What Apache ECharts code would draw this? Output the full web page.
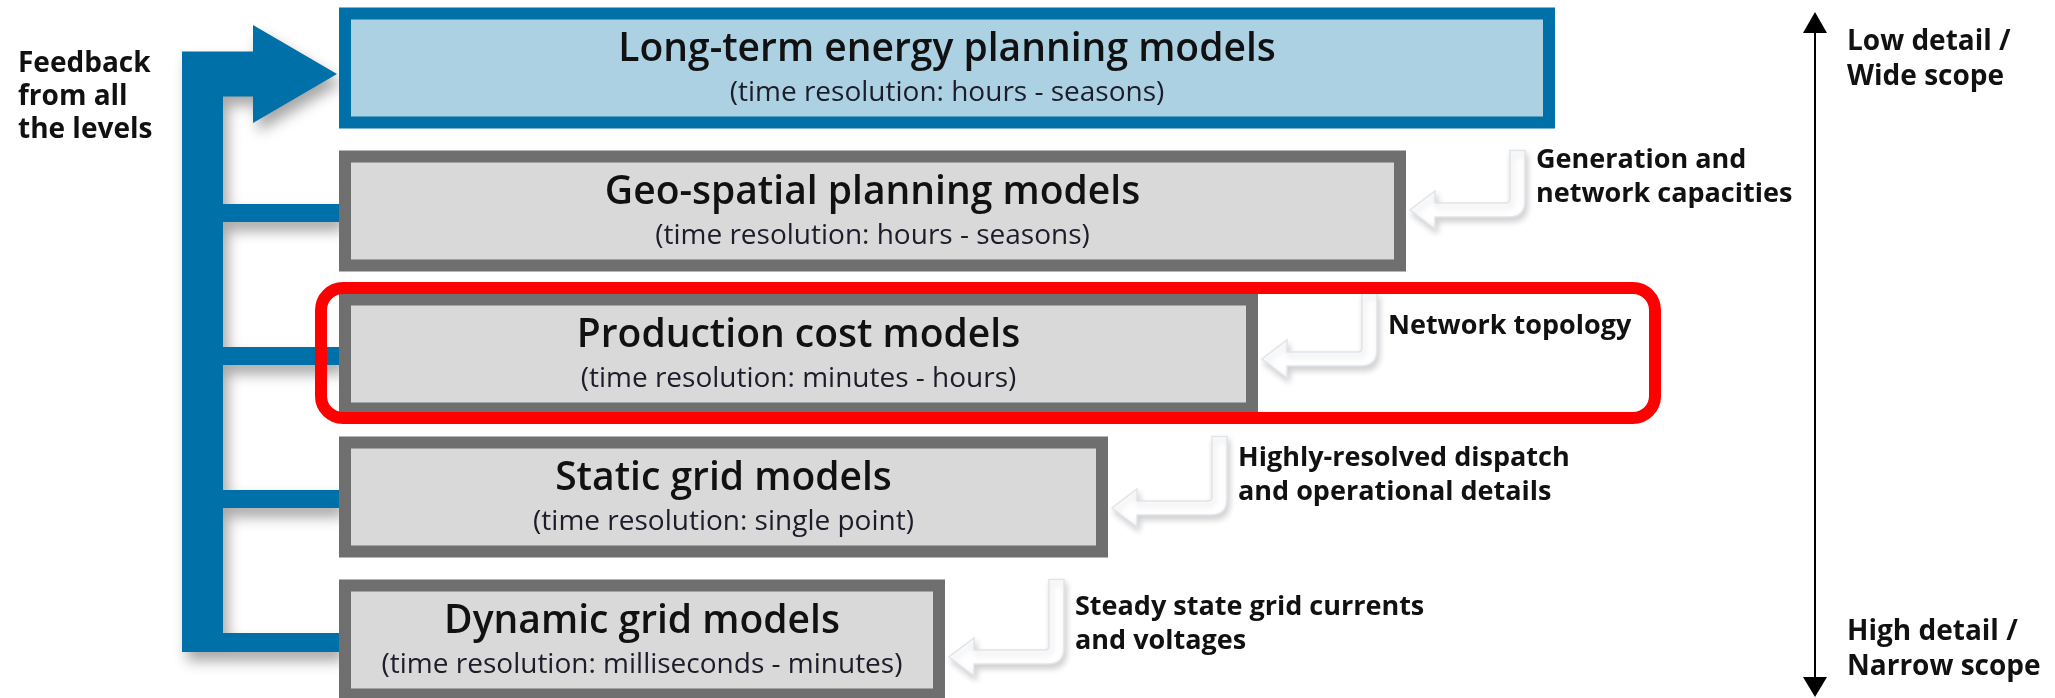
<!DOCTYPE html>
<html>
<head>
<meta charset="utf-8">
<title>Energy model hierarchy</title>
<script src="https://cdn.jsdelivr.net/npm/echarts@6/dist/echarts.min.js"></script>
<style>
    html, body { margin: 0; padding: 0; background: #fff; }
    #main { width: 2055px; height: 698px; }
</style>
</head>
<body>
<div id="main"></div>
<script>
// levels of the model hierarchy, top (wide scope) to bottom (narrow scope)
var models = ['Long-term energy planning models', 'Geo-spatial planning models', 'Production cost models', 'Static grid models', 'Dynamic grid models'];
var resolutions = ['(time resolution: hours - seasons)', '(time resolution: hours - seasons)', '(time resolution: minutes - hours)', '(time resolution: single point)', '(time resolution: milliseconds - minutes)'];
var boxWidths = [1216, 1067, 919, 769, 606];
var inputs = ['', 'Generation and\nnetwork capacities', 'Network topology', 'Highly-resolved dispatch\nand operational details', 'Steady state grid currents\nand voltages'];
var highlighted = 'Production cost models';
var feedbackLabel = 'Feedback\nfrom all\nthe levels';
var scopeTop = 'Low detail /\nWide scope';
var scopeBottom = 'High detail /\nNarrow scope';

var W = 2055, H = 698;
var boxLeft = 339, boxH = 121, rowTop = 68, rowPitch = 143;
var trunkLeft = 182, trunkRight = 223, arrowBase = 253;
var FONT = '"Open Sans", "Noto Sans", sans-serif';
var blue = '#0071a8', gray = '#6f6f6f';

var chart = echarts.init(document.getElementById('main'));

// blue feedback arrow: trunk + one arm per lower level, arrowhead into the top box
function feedbackShape(api) {
    var n = models.length;
    var y0 = api.coord([0, 0])[1] + 6;
    var tip = api.coord([boxLeft, 0])[0] - 2;
    var pts = [[trunkLeft, y0 - 22.5], [arrowBase, y0 - 22.5], [arrowBase, y0 - 49], [tip, y0],
        [arrowBase, y0 + 49], [arrowBase, y0 + 22.5], [trunkRight, y0 + 22.5]];
    for (var k = 1; k < n; k++) {
        var yk = api.coord([0, k])[1] + 2;
        var left = api.coord([boxLeft, k])[0];
        if (k < n - 1) {
            pts.push([trunkRight, yk - 9], [left, yk - 9], [left, yk + 9], [trunkRight, yk + 9]);
        } else {
            pts.push([trunkRight, yk - 9], [left, yk - 9], [left, yk + 10], [trunkLeft, yk + 10]);
        }
    }
    return {
        type: 'polygon',
        shape: {points: pts},
        style: {fill: blue, shadowBlur: 14, shadowOffsetX: 5, shadowOffsetY: 9, shadowColor: 'rgba(0,0,0,0.35)'}
    };
}

function hookPath(xR, top, hy) {
    var hx = xR + 104, ho = xR + 119;
    return 'M' + hx + ',' + top + ' L' + ho + ',' + top +
        ' L' + ho + ',' + (hy - 9) + ' Q' + ho + ',' + (hy + 7) + ' ' + (ho - 16) + ',' + (hy + 7) +
        ' L' + (xR + 29) + ',' + (hy + 7) + ' L' + (xR + 29) + ',' + (hy + 19) +
        ' L' + (xR + 4) + ',' + hy + ' L' + (xR + 29) + ',' + (hy - 19) +
        ' L' + (xR + 29) + ',' + (hy - 7) + ' L' + (hx - 4) + ',' + (hy - 7) +
        ' Q' + hx + ',' + (hy - 7) + ' ' + hx + ',' + (hy - 11) + ' Z';
}

function renderItem(params, api) {
    var i = params.dataIndex;
    var c = api.coord([boxLeft, i]);
    var xL = c[0], yc = c[1];
    var xR = api.coord([boxLeft + api.value(0), i])[0];
    var top = yc - boxH / 2;
    var first = i === 0;
    var children = [];
    if (first) children.push(feedbackShape(api));
    children.push({
        type: 'rect',
        shape: {x: xL + 6, y: top + 6, width: xR - xL - 12, height: boxH - 12},
        style: {fill: first ? '#acd1e3' : '#d9d9d9', stroke: first ? blue : gray, lineWidth: 12}
    });
    children.push({
        type: 'text',
        style: {text: models[i], x: (xL + xR) / 2, y: top + 42, textAlign: 'center', textVerticalAlign: 'middle',
            font: '600 39px ' + FONT, fill: '#111'}
    });
    children.push({
        type: 'text',
        style: {text: resolutions[i], x: (xL + xR) / 2, y: top + 86, textAlign: 'center', textVerticalAlign: 'middle',
            font: '400 28px ' + FONT, fill: '#1c1c2a'}
    });
    if (inputs[i]) {
        var hy = yc + 6 * i - 7;
        children.push({
            type: 'path',
            shape: {pathData: hookPath(xR, top, hy)},
            style: {fill: '#fff', stroke: '#dfe5ec', lineWidth: 1.5, shadowBlur: 6, shadowOffsetX: 2, shadowOffsetY: 4, shadowColor: 'rgba(0,0,0,0.18)'}
        });
        children.push({
            type: 'text',
            style: {text: inputs[i], x: xR + 130, y: hy - 33, textAlign: 'left', textVerticalAlign: 'middle',
                font: '700 27px ' + FONT, lineHeight: 34, fill: '#111'}
        });
    }
    if (models[i] === highlighted) {
        children.push({
            type: 'rect',
            shape: {x: xL - 18, y: top - 5.5, width: 1655 - (xL - 18), height: boxH + 9, r: 22},
            style: {fill: 'none', stroke: '#ff0000', lineWidth: 12}
        });
    }
    return {type: 'group', children: children};
}

var option = {
    animation: false,
    backgroundColor: '#fff',
    grid: {left: 0, right: 0, top: 0, bottom: 0},
    xAxis: {type: 'value', min: 0, max: W, show: false},
    yAxis: {type: 'value', inverse: true, min: -rowTop / rowPitch, max: (H - rowTop) / rowPitch, show: false},
    graphic: [
        {type: 'text', style: {text: feedbackLabel, x: 18, y: 97, textVerticalAlign: 'middle', font: '700 28px ' + FONT, lineHeight: 33, fill: '#111'}},
        {type: 'line', shape: {x1: 1815, y1: 30, x2: 1815, y2: 680}, style: {stroke: '#000', lineWidth: 2}},
        {type: 'polygon', shape: {points: [[1803, 33], [1815, 12], [1827, 33]]}, style: {fill: '#000'}},
        {type: 'polygon', shape: {points: [[1803, 677], [1815, 697], [1827, 677]]}, style: {fill: '#000'}},
        {type: 'text', style: {text: scopeTop, x: 1847, y: 60, textVerticalAlign: 'middle', font: '700 28px ' + FONT, lineHeight: 35, fill: '#111'}},
        {type: 'text', style: {text: scopeBottom, x: 1847, y: 650, textVerticalAlign: 'middle', font: '700 28px ' + FONT, lineHeight: 35, fill: '#111'}}
    ],
    series: [{
        type: 'custom',
        renderItem: renderItem,
        data: models.map(function (m, i) { return [boxWidths[i], i]; }),
        silent: true
    }]
};
chart.setOption(option);
</script>
</body>
</html>
